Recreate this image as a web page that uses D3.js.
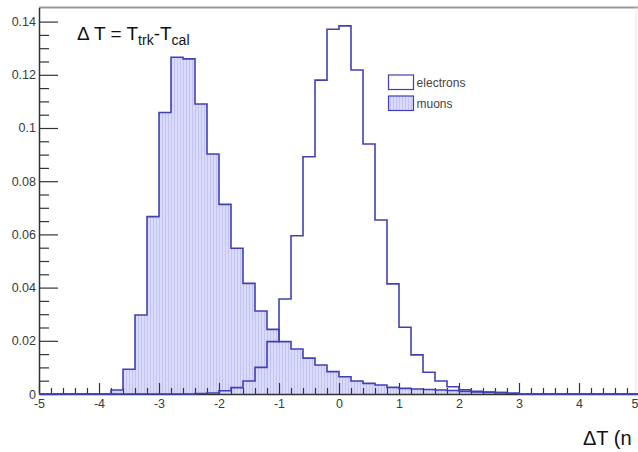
<!DOCTYPE html>
<html><head><meta charset="utf-8">
<script src="https://cdn.jsdelivr.net/npm/d3@7"></script>
<style>body{margin:0;background:#fff}svg{display:block}</style>
</head><body>
<svg id="c" width="638" height="452"></svg>
<script>
// ---- data ----
const binEdges = [-5,-4.8,-4.6,-4.4,-4.2,-4,-3.8,-3.6,-3.4,-3.2,-3,-2.8,-2.6,-2.4,-2.2,-2,-1.8,-1.6,-1.4,-1.2,-1,-0.8,-0.6,-0.4,-0.2,0,0.2,0.4,0.6,0.8,1,1.2,1.4,1.6,1.8,2,2.2,2.4,2.6,2.8,3,3.2,3.4,3.6,3.8,4,4.2,4.4,4.6,4.8,5];
const electrons = [0,0,0,0,0,0,0,0,0,0,0,0,0,0.0002,0.0004,0.0012,0.0024,0.0049,0.0100,0.0197,0.0357,0.0595,0.0892,0.1180,0.1371,0.1384,0.1218,0.0940,0.0654,0.0414,0.0251,0.0147,0.0082,0.0049,0.0027,0.0016,0.0010,0.0007,0.0005,0.0003,0,0,0,0,0,0,0,0,0,0];
const muons = [0,0,0,0,0,0,0.0015,0.0093,0.0297,0.0667,0.1058,0.1266,0.1260,0.1090,0.0902,0.0713,0.0548,0.0416,0.0312,0.0243,0.0197,0.0169,0.0135,0.0109,0.0084,0.0065,0.0049,0.0040,0.0034,0.0025,0.0021,0.0019,0.0017,0.0015,0.0013,0.0010,0.0008,0.0006,0.0005,0.0003,0,0,0,0,0,0,0,0,0,0];
const seriesNames = ["electrons","muons"];
const yTicks = [0,0.02,0.04,0.06,0.08,0.1,0.12,0.14];
const yTickLabels = ["0","0.02","0.04","0.06","0.08","0.1","0.12","0.14"];
const yMinorTicks = [0.005,0.01,0.015,0.025,0.03,0.035,0.045,0.05,0.055,0.065,0.07,0.075,0.085,0.09,0.095,0.105,0.11,0.115,0.125,0.13,0.135];
const xTicks = [-5,-4,-3,-2,-1,0,1,2,3,4,5];
const xTickLabels = ["-5","-4","-3","-2","-1","0","1","2","3","4","5"];
const xMinorTicks = binEdges.filter(e => Math.abs(e - Math.round(e)) > 1e-6);
const xTitle = "ΔT (n";

// ---- layout ----
const svg = d3.select("#c");
const x = d3.scaleLinear().domain([-5,5]).range([39,639]);
const y = d3.scaleLinear().domain([0,0.1453]).range([394,7.5]);
const lineCol = "#4040b6";
const axisCol = "#333";
const font = "'Liberation Sans',Arial,sans-serif";

// pattern
const defs = svg.append("defs");
const pat = defs.append("pattern").attr("id","hatch").attr("patternUnits","userSpaceOnUse")
  .attr("width",3).attr("height",4);
pat.append("rect").attr("width",3).attr("height",4).attr("fill","#dadafb");
pat.append("rect").attr("x",0).attr("width",1).attr("height",4).attr("fill","#c3c3f2");

function pts(vals){
  const p = [[binEdges[0],0]];
  vals.forEach((v,i)=>p.push([binEdges[i],v]));
  p.push([binEdges[binEdges.length-1], vals[vals.length-1]]);
  p.push([binEdges[binEdges.length-1], 0]);
  return p;
}
const area = d3.area().x(d=>x(d[0])).y0(y(0)).y1(d=>y(d[1])).curve(d3.curveStepAfter);
const line = d3.line().x(d=>x(d[0])).y(d=>y(d[1])).curve(d3.curveStepAfter);

// frame
svg.append("line").attr("x1",39).attr("x2",638).attr("y1",7.5).attr("y2",7.5)
  .attr("stroke","#999").attr("stroke-width",2);
svg.append("line").attr("x1",636).attr("x2",636).attr("y1",7.5).attr("y2",394)
  .attr("stroke","#e6e6e6").attr("stroke-width",1);

// muons fill
svg.append("path").datum(pts(muons)).attr("d",area).attr("fill","url(#hatch)");

// axes
svg.append("g").attr("transform","translate(39,0)")
  .call(d3.axisLeft(y).tickValues(yTicks).tickFormat((d,i)=>yTickLabels[i])
        .tickSizeInner(-19).tickSizeOuter(0).tickPadding(3));
const yMinor = svg.append("g").attr("transform","translate(39,0)")
  .call(d3.axisLeft(y).tickValues(yMinorTicks).tickFormat("").tickSizeInner(-10).tickSizeOuter(0));
yMinor.select(".domain").remove();
const xAxis = svg.append("g").attr("transform","translate(0,394)")
  .call(d3.axisBottom(x).tickValues(xTicks).tickFormat((d,i)=>xTickLabels[i])
        .tickSizeInner(-11).tickSizeOuter(0).tickPadding(5));
const xMinor = svg.append("g").attr("transform","translate(0,394)")
  .call(d3.axisBottom(x).tickValues(xMinorTicks).tickFormat("").tickSizeInner(-6).tickSizeOuter(0));
xMinor.select(".domain").remove();
svg.selectAll(".tick line").attr("stroke",axisCol).attr("stroke-width",1.2);
svg.selectAll(".domain").attr("stroke",axisCol).attr("stroke-width",1.5);
svg.selectAll(".tick text").attr("fill","#3a3a3a").style("font-family",font).style("font-size","12.5px");
xAxis.selectAll(".tick text").attr("dy","0.71em");
// keep the last x label inside the picture
xAxis.selectAll(".tick text").filter(d => d === 5).attr("text-anchor","end").attr("dx","-1");

// histogram outlines
svg.append("path").datum(pts(muons)).attr("d",line).attr("fill","none")
  .attr("stroke",lineCol).attr("stroke-width",1.6);
svg.append("path").datum(pts(electrons)).attr("d",line).attr("fill","none")
  .attr("stroke",lineCol).attr("stroke-width",1.6);

// legend
const leg = svg.append("g").style("font-family",font).style("font-size","12px");
seriesNames.forEach((n,i)=>{
  const gy = 75 + i*21;
  leg.append("rect").attr("x",388.5).attr("y",gy).attr("width",25).attr("height",14.5)
    .attr("fill", i===0 ? "#fff" : "url(#hatch)").attr("stroke",lineCol).attr("stroke-width",1.2);
  leg.append("text").attr("x",416.5).attr("y",gy+11.5).attr("fill","#444")
    .attr("textLength", i===0 ? 49 : null).text(n);
});

// title
const t = svg.append("text").attr("x",77).attr("y",40).attr("fill","#111")
  .style("font-family",font).style("font-size","19px");
t.append("tspan").text("Δ T = T");
t.append("tspan").attr("dy",5).style("font-size","14px").text("trk");
t.append("tspan").attr("dy",-5).text("-T");
t.append("tspan").attr("dy",5).style("font-size","14px").text("cal");

// x axis title
svg.append("text").attr("x",583).attr("y",445).attr("fill","#111")
  .style("font-family",font).style("font-size","20px")
  .text(xTitle);
</script>
</body></html>
